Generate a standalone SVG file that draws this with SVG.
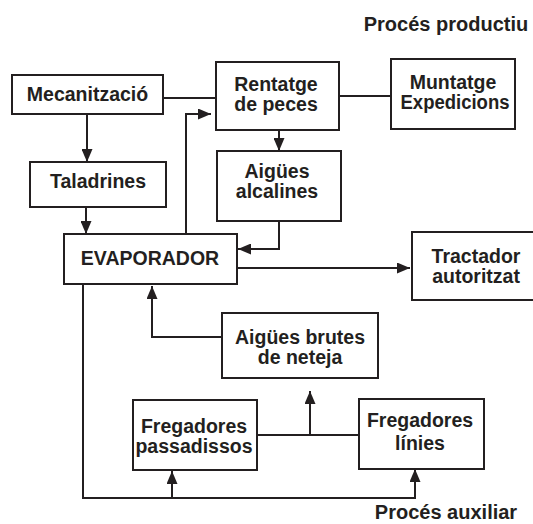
<svg xmlns="http://www.w3.org/2000/svg" width="533" height="524" viewBox="0 0 533 524">
<defs>
<style>
.box{fill:#fff;stroke:#231f20;stroke-width:2}
.t{font-family:"Liberation Sans",Arial,sans-serif;font-weight:bold;font-size:19.5px;fill:#231f20;text-anchor:middle}
.ttl{font-family:"Liberation Sans",Arial,sans-serif;font-weight:bold;font-size:20px;fill:#231f20;text-anchor:middle}
.c{fill:none;stroke:#231f20;stroke-width:2}
.a{marker-end:url(#ah)}
</style>
<marker id="ah" markerUnits="userSpaceOnUse" markerWidth="13" markerHeight="11" refX="13" refY="5.5" orient="auto">
<path d="M0,0 L13,5.5 L0,11 z" fill="#231f20"/>
</marker>
</defs>
<rect width="533" height="524" fill="#fff"/>
<text class="ttl" x="446" y="31">Procés productiu</text>
<text class="ttl" x="446" y="519">Procés auxiliar</text>
<g id="connectors">
<path class="c" d="M163,98 H216"/>
<path class="c" d="M339,96 H391"/>
<path class="c a" d="M87,114 V162"/>
<path class="c a" d="M86,207 V234"/>
<path class="c a" d="M186,234 V114 H211"/>
<path class="c a" d="M279,130 V151"/>
<path class="c a" d="M279,221 V249 H238"/>
<path class="c a" d="M237,268 H410"/>
<path class="c a" d="M222,337 H152 V286"/>
<path class="c" d="M83,284 V498 H415"/>
<path class="c a" d="M415,499 V469"/>
<path class="c a" d="M172,498 V471"/>
<path class="c" d="M257,435 H359"/>
<path class="c a" d="M310,435 V391"/>
</g>
<g id="mecanitzacio"><rect class="box" x="12" y="75" width="151" height="39"/><text class="t" x="87.5" y="101">Mecanització</text></g>
<g id="rentatge"><rect class="box" x="216" y="62" width="123" height="68"/><text class="t" x="276" y="91">Rentatge</text><text class="t" x="276" y="111">de peces</text></g>
<g id="muntatge"><rect class="box" x="391" y="59" width="124" height="70"/><text class="t" x="453" y="89">Muntatge</text><text class="t" x="455" y="109" textLength="109" lengthAdjust="spacingAndGlyphs">Expedicions</text></g>
<g id="taladrines"><rect class="box" x="30" y="162" width="136" height="45"/><text class="t" x="98" y="188">Taladrines</text></g>
<g id="alcalines"><rect class="box" x="217" y="151" width="124" height="70"/><text class="t" x="277" y="178">Aigües</text><text class="t" x="277" y="198">alcalines</text></g>
<g id="evaporador"><rect class="box" x="64" y="234" width="173" height="50"/><text class="t" x="150" y="265">EVAPORADOR</text></g>
<g id="tractador"><rect class="box" x="412" y="232" width="124" height="68"/><text class="t" x="476" y="263">Tractador</text><text class="t" x="476" y="283">autoritzat</text></g>
<g id="brutes"><rect class="box" x="222" y="313" width="156" height="65"/><text class="t" x="300" y="344">Aigües brutes</text><text class="t" x="300" y="364">de neteja</text></g>
<g id="passadissos"><rect class="box" x="133" y="400" width="124" height="70"/><text class="t" x="194" y="433">Fregadores</text><text class="t" x="194" y="453">passadissos</text></g>
<g id="linies"><rect class="box" x="359" y="399" width="125" height="70"/><text class="t" x="420" y="427">Fregadores</text><text class="t" x="420" y="450">línies</text></g>
</svg>
